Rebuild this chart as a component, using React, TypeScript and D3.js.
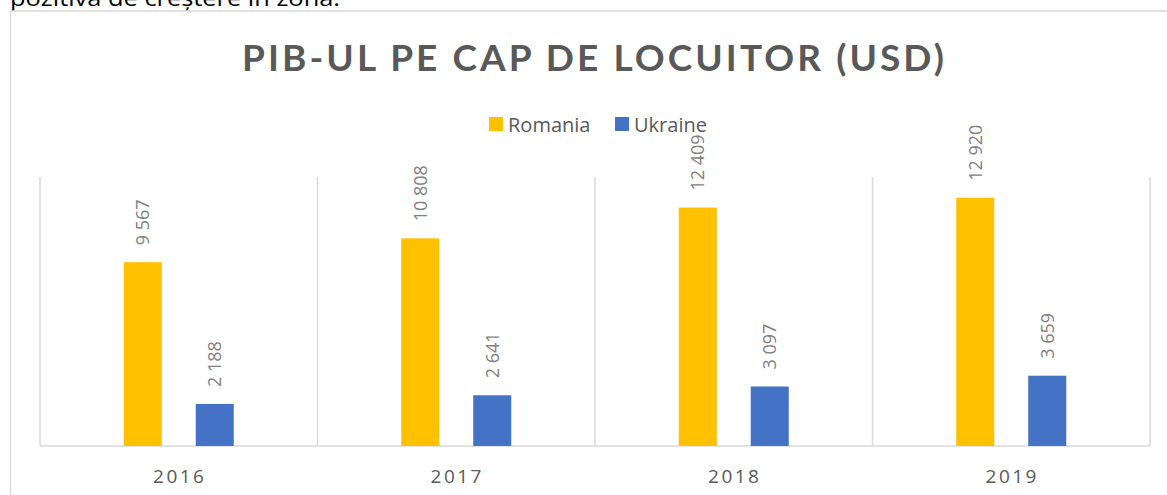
import React from "react";
import * as d3 from "d3";

const categories = ["2016", "2017", "2018", "2019"];
const seriesNames = ["Romania", "Ukraine"];
const romania = [9567, 10808, 12409, 12920];
const ukraine = [2188, 2641, 3097, 3659];
const seriesColors = ["#FFC000", "#4472C4"];
const yMax = 14000;

const W = 1167;
const H = 495;
const plot = { left: 40, right: 1150, top: 177, bottom: 446 };

const fmt = (v: number) => d3.format(",")(v).replace(/,/g, " ");

export default function App() {
  const x0 = d3.scaleBand<string>().domain(categories).range([plot.left, plot.right]).padding(0);
  const groupW = 110;
  const x1 = d3.scaleBand<string>().domain(seriesNames).range([0, groupW]).paddingInner(0.472).paddingOuter(0);
  const y = d3.scaleLinear().domain([0, yMax]).range([plot.bottom, plot.top]);
  const data = [romania, ukraine];
  const gridXs = [...categories.map((c) => x0(c)!), plot.right];

  return (
    <svg
      width={W}
      height={H}
      style={{ position: "absolute", left: 0, top: 0, background: "#fff" }}
      fontFamily="'Open Sans', sans-serif"
    >
      <text x={10} y={6} fontSize={22} fill="#000" textLength={330} lengthAdjust="spacingAndGlyphs">
        pozitivă de creștere în zonă.
      </text>
      <rect x={10.5} y={11} width={1170} height={500} fill="#fff" stroke="#d9d9d9" strokeWidth={1.5} />
      <text
        x={593}
        y={71}
        textAnchor="middle"
        fontFamily="Lato, 'Open Sans', sans-serif"
        fontWeight="bold"
        fontSize={37}
        fill="#595959"
        textLength={702}
        lengthAdjust="spacing"
      >
        PIB-UL PE CAP DE LOCUITOR (USD)
      </text>
      {seriesNames.map((s, i) => {
        const lx = i === 0 ? 489 : 615;
        return (
          <g key={s}>
            <rect x={lx} y={117} width={14} height={14} fill={seriesColors[i]} />
            <text x={lx + 19} y={132} fontSize={20} fill="#595959">
              {s}
            </text>
          </g>
        );
      })}
      {gridXs.map((gx, i) => (
        <line key={i} x1={gx} x2={gx} y1={plot.top} y2={plot.bottom} stroke="#d9d9d9" strokeWidth={1.5} />
      ))}
      <line x1={plot.left} x2={plot.right} y1={plot.bottom} y2={plot.bottom} stroke="#d9d9d9" strokeWidth={1.5} />
      {categories.map((c, ci) => {
        const gx = x0(c)! + (x0.bandwidth() - groupW) / 2;
        return (
          <g key={c}>
            {seriesNames.map((s, si) => {
              const v = data[si][ci];
              const bx = gx + x1(s)!;
              const bw = x1.bandwidth();
              const top = y(v);
              const cx = bx + bw / 2;
              const ly = top - 17;
              return (
                <g key={s}>
                  <rect x={bx} y={top} width={bw} height={plot.bottom - top} fill={seriesColors[si]} />
                  <text
                    transform={`translate(${cx},${ly}) rotate(-90)`}
                    dy="0.36em"
                    fontSize={18}
                    fill="#7f7f7f"
                    textAnchor="start"
                  >
                    {fmt(v)}
                  </text>
                </g>
              );
            })}
            <text
              x={x0(c)! + x0.bandwidth() / 2 + 1}
              y={483}
              textAnchor="middle"
              fontSize={19}
              letterSpacing={2.5}
              fill="#595959"
            >
              {c}
            </text>
          </g>
        );
      })}
    </svg>
  );
}
